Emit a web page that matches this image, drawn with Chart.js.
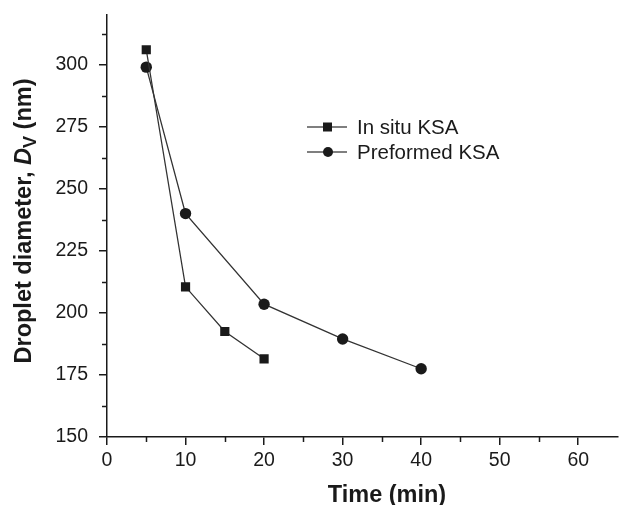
<!DOCTYPE html>
<html>
<head>
<meta charset="utf-8">
<script src="https://cdn.jsdelivr.net/npm/chart.js"></script>
<style>
  html, body { margin: 0; padding: 0; background: #fff; overflow: hidden; }
  canvas { display: block; }
</style>
</head>
<body>
<canvas id="chart" width="624" height="505"></canvas>
<script>
// data
const inSituTime = [5, 10, 15, 20];
const inSituDiameter = [306, 210.5, 192.5, 181.5];
const preformedTime = [5, 10, 20, 30, 40];
const preformedDiameter = [299, 240, 203.5, 189.5, 177.5];
const seriesNames = ['In situ KSA', 'Preformed KSA'];
const xTicks = [0, 10, 20, 30, 40, 50, 60];
const yTicks = [150, 175, 200, 225, 250, 275, 300];

const FONT = '"Liberation Sans", Arial, sans-serif';
const INK = '#1a1a1a';

function toPoints(xs, ys) {
    return xs.map((x, i) => ({ x: x, y: ys[i] }));
}

// minor ticks, legend inside the plot, axis titles (y one has a subscript)
const extras = {
    id: 'extras',
    afterDraw(chart) {
        const ctx = chart.ctx;
        const xs = chart.scales.x;
        const ys = chart.scales.y;
        ctx.save();
        ctx.strokeStyle = INK;
        ctx.lineWidth = 1.5;
        // minor ticks
        for (let v = 5; v < 60; v += 10) {
            const px = Math.round(xs.getPixelForValue(v)) + 0.5;
            ctx.beginPath();
            ctx.moveTo(px, ys.bottom);
            ctx.lineTo(px, ys.bottom + 5);
            ctx.stroke();
        }
        for (let v = 162.5; v < 320; v += 25) {
            const py = Math.round(ys.getPixelForValue(v)) + 0.5;
            ctx.beginPath();
            ctx.moveTo(xs.left, py);
            ctx.lineTo(xs.left - 5, py);
            ctx.stroke();
        }

        // legend
        const lx = 307, ly = 127, gap = 25;
        chart.data.datasets.forEach((ds, i) => {
            const y = ly + i * gap;
            ctx.strokeStyle = '#555';
            ctx.lineWidth = 1.5;
            ctx.beginPath();
            ctx.moveTo(lx, y);
            ctx.lineTo(lx + 40, y);
            ctx.stroke();
            ctx.fillStyle = INK;
            if (ds.pointStyle === 'rect') {
                ctx.fillRect(lx + 16, y - 4.5, 9, 9);
            } else {
                ctx.beginPath();
                ctx.arc(lx + 21, y, 5, 0, Math.PI * 2);
                ctx.fill();
            }
            ctx.font = '20.5px ' + FONT;
            ctx.textBaseline = 'middle';
            ctx.textAlign = 'left';
            ctx.fillText(ds.label, lx + 50, y + 1);
        });

        // x axis title
        ctx.fillStyle = INK;
        ctx.font = 'bold 23.5px ' + FONT;
        ctx.textAlign = 'center';
        ctx.textBaseline = 'middle';
        ctx.fillText('Time (min)', 387, 496);

        // y axis title: Droplet diameter, D_V (nm)
        ctx.translate(25, 221);
        ctx.rotate(-Math.PI / 2);
        ctx.textAlign = 'left';
        const parts = [
            { t: 'Droplet diameter, ', f: 'bold 23.5px ' + FONT, dy: 0 },
            { t: 'D', f: 'italic bold 23.5px ' + FONT, dy: 0 },
            { t: 'V', f: 'bold 18px ' + FONT, dy: 6 },
            { t: ' (nm)', f: 'bold 23.5px ' + FONT, dy: 0 }
        ];
        let total = 0;
        parts.forEach(p => { ctx.font = p.f; total += ctx.measureText(p.t).width; });
        let cx = -total / 2;
        parts.forEach(p => {
            ctx.font = p.f;
            ctx.fillText(p.t, cx, p.dy);
            cx += ctx.measureText(p.t).width;
        });
        ctx.restore();
    }
};

new Chart(document.getElementById('chart'), {
    type: 'scatter',
    data: {
        datasets: [
            {
                label: seriesNames[0],
                data: toPoints(inSituTime, inSituDiameter),
                showLine: true,
                borderColor: '#333',
                borderWidth: 1.3,
                backgroundColor: INK,
                pointStyle: 'rect',
                pointRadius: 6.5,
                pointBorderWidth: 0
            },
            {
                label: seriesNames[1],
                data: toPoints(preformedTime, preformedDiameter),
                showLine: true,
                borderColor: '#333',
                borderWidth: 1.3,
                backgroundColor: INK,
                pointStyle: 'circle',
                pointRadius: 5.7,
                pointBorderWidth: 0
            }
        ]
    },
    options: {
        responsive: false,
        animation: false,
        devicePixelRatio: 1,
        layout: { padding: { top: 15, right: 0, left: 0, bottom: 0 } },
        plugins: {
            legend: { display: false },
            tooltip: { enabled: false }
        },
        scales: {
            x: {
                type: 'linear',
                min: 0,
                max: 65,
                afterBuildTicks: s => { s.ticks = xTicks.map(v => ({ value: v })); },
                grid: { drawOnChartArea: false, color: INK, tickLength: 8, lineWidth: 1.5 },
                border: { color: INK, width: 1.5 },
                ticks: { color: INK, font: { family: FONT, size: 19.5 }, padding: 4, maxRotation: 0 },
                afterFit: s => { s.height = 68; s.paddingLeft = 0; s.paddingRight = 0; }
            },
            y: {
                type: 'linear',
                min: 150,
                max: 320,
                afterBuildTicks: s => { s.ticks = yTicks.map(v => ({ value: v })); },
                grid: { drawOnChartArea: false, color: INK, tickLength: 8, lineWidth: 1.5 },
                border: { color: INK, width: 1.5 },
                ticks: { color: INK, font: { family: FONT, size: 19.5 }, padding: 11 },
                afterFit: s => { s.width = 107; s.paddingTop = 0; s.paddingBottom = 0; }
            }
        }
    },
    plugins: [extras]
});
</script>
</body>
</html>
